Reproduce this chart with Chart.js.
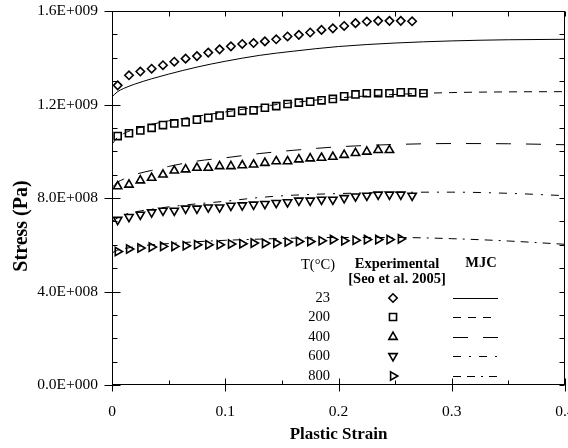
<!DOCTYPE html>
<html>
<head>
<meta charset="utf-8">
<script src="https://cdn.jsdelivr.net/npm/chart.js@4.4.1/dist/chart.umd.min.js"></script>
<style>
  body { margin: 0; background: #fff; overflow: hidden; }
  #wrap { width: 568px; height: 448px; }
</style>
</head>
<body>
<div id="wrap"><canvas id="myChart"></canvas></div>
<script>
'use strict';
// experimental strain points (Seo et al. 2005)
let expStrain = [0.005, 0.015, 0.025, 0.035, 0.045, 0.055, 0.065, 0.075, 0.085, 0.095,
    0.105, 0.115, 0.125, 0.135, 0.145, 0.155, 0.165, 0.175, 0.185, 0.195,
    0.205, 0.215, 0.225, 0.235, 0.245, 0.255, 0.265, 0.275];
// stresses in units of 1E+009 Pa
let exp23 = [1.282, 1.325, 1.341, 1.353, 1.368, 1.383, 1.396, 1.407, 1.422, 1.436, 1.449, 1.459, 1.463, 1.470,
    1.479, 1.491, 1.498, 1.508, 1.519, 1.526, 1.536, 1.548, 1.555, 1.558, 1.558, 1.558, 1.556];
let exp200 = [1.065, 1.077, 1.089, 1.100, 1.112, 1.119, 1.124, 1.135, 1.143, 1.153, 1.165, 1.173, 1.175, 1.186,
    1.193, 1.202, 1.208, 1.212, 1.218, 1.224, 1.235, 1.243, 1.248, 1.248, 1.248, 1.252, 1.252, 1.248];
let exp400 = [0.850, 0.857, 0.875, 0.886, 0.900, 0.917, 0.922, 0.929, 0.929, 0.936, 0.936, 0.940, 0.943,
    0.950, 0.957, 0.957, 0.965, 0.969, 0.972, 0.976, 0.984, 0.992, 0.998, 1.005, 1.005];
let exp600 = [0.707, 0.719, 0.729, 0.739, 0.746, 0.746, 0.755, 0.755, 0.760, 0.760, 0.767, 0.769, 0.772, 0.775,
    0.779, 0.782, 0.789, 0.789, 0.793, 0.793, 0.800, 0.807, 0.810, 0.815, 0.815, 0.815, 0.810];
let exp800 = [0.571, 0.582, 0.586, 0.590, 0.593, 0.593, 0.596, 0.600, 0.600, 0.600, 0.603, 0.604, 0.607,
    0.606, 0.607, 0.612, 0.614, 0.614, 0.617, 0.622, 0.617, 0.619, 0.622, 0.622, 0.622, 0.625];

// MJC model curves
let mjcStrain = [0, 0.005, 0.01, 0.02, 0.035, 0.05, 0.075, 0.1, 0.13, 0.16, 0.2, 0.25, 0.3, 0.35, 0.4];
let mjc23 = [1.233, 1.255, 1.268, 1.287, 1.310, 1.330, 1.360, 1.385, 1.410, 1.428, 1.448, 1.463, 1.472, 1.477, 1.479];
let mjc200 = [1.030, 1.060, 1.075, 1.095, 1.115, 1.130, 1.150, 1.168, 1.190, 1.208, 1.228, 1.243, 1.251, 1.254, 1.255];
let mjc400 = [0.845, 0.868, 0.880, 0.900, 0.918, 0.935, 0.958, 0.972, 0.990, 1.004, 1.019, 1.029, 1.033, 1.032, 1.028];
let mjc600 = [0.700, 0.715, 0.727, 0.740, 0.752, 0.762, 0.775, 0.786, 0.802, 0.812, 0.819, 0.824, 0.825, 0.820, 0.810];
let mjc800 = [0.565, 0.577, 0.583, 0.591, 0.600, 0.605, 0.613, 0.619, 0.624, 0.628, 0.631, 0.631, 0.626, 0.616, 0.602];

let temps = ['23', '200', '400', '600', '800'];
let expSeries = [exp23, exp200, exp400, exp600, exp800];
let mjcSeries = [mjc23, mjc200, mjc400, mjc600, mjc800];
let markerStyle = ['rectRot', 'rect', 'triangle', 'triangle', 'triangle'];
let markerRotation = [0, 0, 0, 180, 90];
let markerRadius = [4.2, 5, 4.8, 4.8, 4.8];
let lineDash = [[], [8, 7], [15, 15], [8, 8, 2, 8], [8, 6, 8, 6, 2, 6]];

// tick values
let xMajor = [0, 0.1, 0.2, 0.3, 0.4];
let xMinor = [0.05, 0.15, 0.25, 0.35];
let yMajor = [0, 0.4, 0.8, 1.2, 1.6];
let yMinor = [0.1, 0.2, 0.3, 0.5, 0.6, 0.7, 0.9, 1.0, 1.1, 1.3, 1.4, 1.5];

Chart.defaults.font.family = "'Liberation Serif', 'Times New Roman', serif";
Chart.defaults.color = '#000';

function toPoints(xs, ys) {
    let pts = [];
    for (let i = 0; i < ys.length; i++) {
        pts.push({ x: xs[i], y: ys[i] });
    }
    return pts;
}

function formatSci(v) {
    // 1.2 -> 1.2E+009 style
    let s = (v * 1e9).toExponential(1);
    let parts = s.split('e');
    let exp = parseInt(parts[1], 10);
    let sign = exp < 0 ? '-' : '+';
    let digits = String(Math.abs(exp));
    while (digits.length < 3) digits = '0' + digits;
    return parts[0] + 'E' + sign + digits;
}

function noPad(scale) {
    scale.paddingLeft = 0;
    scale.paddingRight = 0;
    scale.paddingTop = 0;
    scale.paddingBottom = 0;
}

let datasets = [];
for (let i = 0; i < temps.length; i++) {
    datasets.push({
        type: 'line',
        label: 'MJC ' + temps[i],
        data: toPoints(mjcStrain, mjcSeries[i]),
        borderColor: '#000',
        borderWidth: 1,
        borderDash: lineDash[i],
        pointRadius: 0,
        fill: false,
        cubicInterpolationMode: 'monotone'
    });
}
for (let i = 0; i < temps.length; i++) {
    datasets.push({
        type: 'scatter',
        label: 'Exp ' + temps[i],
        data: toPoints(expStrain, expSeries[i]),
        borderColor: '#000',
        backgroundColor: 'rgba(0,0,0,0)',
        borderWidth: 1.6,
        pointStyle: markerStyle[i],
        rotation: markerRotation[i],
        pointRadius: markerRadius[i]
    });
}

function drawMarker(ctx, style, rot, r, x, y) {
    ctx.save();
    ctx.fillStyle = 'rgba(0,0,0,0)';
    ctx.strokeStyle = '#000';
    ctx.lineWidth = 1.6;
    if (Chart.helpers && Chart.helpers.drawPoint) {
        Chart.helpers.drawPoint(ctx, { pointStyle: style, rotation: rot, radius: r, borderWidth: 1.6 }, x, y);
    } else {
        ctx.beginPath();
        ctx.arc(x, y, r, 0, Math.PI * 2);
        ctx.stroke();
    }
    ctx.restore();
}

// frame with inward ticks, y title and the legend table
let framePlugin = {
    id: 'framePlugin',
    afterDraw(chart) {
        let ctx = chart.ctx;
        let a = chart.chartArea;
        let xs = chart.scales.x;
        let ys = chart.scales.y;
        let L = Math.round(a.left) + 0.5, R = Math.round(a.right) - 0.5;
        let T = Math.round(a.top) + 0.5, B = Math.round(a.bottom) - 0.5;
        ctx.save();
        ctx.strokeStyle = '#000';
        ctx.lineWidth = 1;
        ctx.setLineDash([]);
        ctx.strokeRect(L, T, R - L, B - T);
        ctx.beginPath();
        for (let i = 0; i < xMajor.length; i++) {
            let px = Math.round(xs.getPixelForValue(xMajor[i])) + 0.5;
            ctx.moveTo(px, B - 6); ctx.lineTo(px, B + 7);
            ctx.moveTo(px, T); ctx.lineTo(px, T + 5);
        }
        for (let i = 0; i < xMinor.length; i++) {
            let px = Math.round(xs.getPixelForValue(xMinor[i])) + 0.5;
            ctx.moveTo(px, B - 4); ctx.lineTo(px, B);
            ctx.moveTo(px, T); ctx.lineTo(px, T + 5);
        }
        for (let i = 0; i < yMajor.length; i++) {
            let py = Math.round(ys.getPixelForValue(yMajor[i])) + 0.5;
            ctx.moveTo(L - 8, py); ctx.lineTo(L + 8, py);
            ctx.moveTo(R - 5, py); ctx.lineTo(R, py);
        }
        for (let i = 0; i < yMinor.length; i++) {
            let py = Math.round(ys.getPixelForValue(yMinor[i])) + 0.5;
            ctx.moveTo(L, py); ctx.lineTo(L + 5, py);
            ctx.moveTo(R - 5, py); ctx.lineTo(R, py);
        }
        ctx.stroke();

        // y axis title
        ctx.fillStyle = '#000';
        ctx.font = "bold 20px 'Liberation Serif'";
        ctx.textAlign = 'center';
        ctx.textBaseline = 'middle';
        ctx.save();
        ctx.translate(22, 226);
        ctx.rotate(-Math.PI / 2);
        ctx.fillText('Stress (Pa)', 0, 0);
        ctx.restore();

        // legend table
        ctx.font = "14.5px 'Liberation Serif'";
        ctx.fillText('T(\u00B0C)', 318, 265);
        ctx.font = "bold 14.5px 'Liberation Serif'";
        ctx.fillText('Experimental', 397, 264);
        ctx.fillText('[Seo et al. 2005]', 397, 279);
        ctx.fillText('MJC', 481, 263);
        let rowY = [298, 317, 337, 356, 376];
        for (let i = 0; i < temps.length; i++) {
            ctx.font = "14.5px 'Liberation Serif'";
            ctx.textAlign = 'right';
            ctx.fillStyle = '#000';
            ctx.fillText(temps[i], 330, rowY[i]);
            drawMarker(ctx, markerStyle[i], markerRotation[i], markerRadius[i], 393, rowY[i]);
            ctx.beginPath();
            ctx.lineWidth = 1;
            ctx.setLineDash(lineDash[i]);
            ctx.moveTo(453, rowY[i] + 0.5);
            ctx.lineTo(498, rowY[i] + 0.5);
            ctx.stroke();
            ctx.setLineDash([]);
        }
        ctx.restore();
    }
};

let ctx = document.getElementById('myChart').getContext('2d');
let chart = new Chart(ctx, {
    type: 'scatter',
    data: { datasets: datasets },
    options: {
        responsive: true,
        maintainAspectRatio: false,
        animation: false,
        layout: { autoPadding: false, padding: { left: 0, right: 3, top: 11, bottom: 0 } },
        plugins: { legend: { display: false }, tooltip: { enabled: false } },
        scales: {
            x: {
                type: 'linear',
                min: 0,
                max: 0.4,
                grid: { display: false, drawTicks: false },
                border: { display: false },
                ticks: {
                    stepSize: 0.1,
                    padding: 18,
                    maxRotation: 0,
                    autoSkip: false,
                    font: { size: 15.5 },
                    callback: function (v) { return String(Number(v.toFixed(2))); }
                },
                title: {
                    display: true,
                    text: 'Plastic Strain',
                    font: { size: 17, weight: 'bold' },
                    padding: { top: 0, bottom: 3 }
                },
                afterFit: function (scale) { scale.height = 63; noPad(scale); }
            },
            y: {
                type: 'linear',
                min: 0,
                max: 1.6,
                grid: { display: false, drawTicks: false },
                border: { display: false },
                ticks: {
                    stepSize: 0.4,
                    padding: 14,
                    font: { size: 15.5 },
                    callback: function (v) { return formatSci(v); }
                },
                afterFit: function (scale) { scale.width = 112; noPad(scale); }
            }
        }
    },
    plugins: [framePlugin]
});
</script>
</body>
</html>
